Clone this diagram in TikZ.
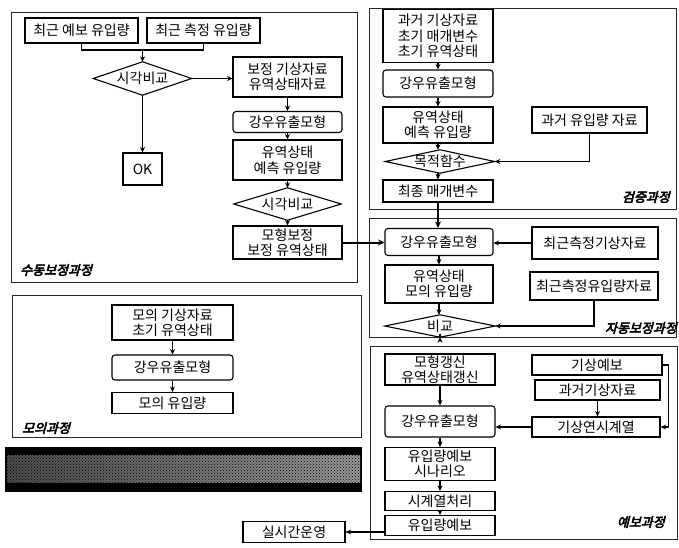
\documentclass[tikz,border=0pt]{standalone}
\usepackage{fontspec}
\setmainfont{Noto Sans CJK KR}
\newfontfamily\kr{Noto Sans CJK KR}
\newfontfamily\krlab[FakeSlant=0.25,FakeBold=4]{Noto Sans CJK KR}
\usetikzlibrary{arrows.meta,patterns,calc}
\begin{document}
\begin{tikzpicture}[x=1pt,y=-1pt,
  box/.style={draw, line width=1.1pt, inner sep=0pt, align=center, font=\kr\fontsize{14}{15.5}\selectfont},
  rbox/.style={box, rounded corners=3pt},
  dia/.style={inner sep=0pt, align=center, font=\kr\fontsize{14}{15.5}\selectfont},
  diaedge/.style={line width=1.1pt},
  arr/.style={-{Stealth[length=5.5pt,width=5pt]}, line width=1.1pt},
  thk/.style={-{Stealth[length=6.5pt,width=6pt]}, line width=2pt},
  ln/.style={line width=1.1pt},
  panel/.style={draw, line width=0.9pt, black!85},
  lab/.style={font=\krlab\fontsize{13}{13}\selectfont, inner sep=0pt}
]
\fill[white] (0,0) rectangle (679,547);
\useasboundingbox (0,0) rectangle (679,547);

% panels
\draw[panel] (11,12) rectangle (357,282);
\draw[panel] (12,295) rectangle (361,437);
\draw[panel] (369,8) rectangle (676,209);
\draw[panel] (369,218) rectangle (676,337);
\draw[panel] (370,346) rectangle (677,539);

% ---------- 수동보정과정 ----------
\node[box, minimum width=113pt, minimum height=25pt] (a1) at (81.5,30.5) {최근 예보 유입량};
\node[box, minimum width=113pt, minimum height=25pt] (a2) at (203.5,30.5) {최근 측정 유입량};
\node[dia, minimum width=98pt, minimum height=33pt] (d1) at (142.5,78.5) {시각비교};
\draw[diaedge] (d1.north)--(d1.east)--(d1.south)--(d1.west)--cycle;
\node[box, minimum width=39pt, minimum height=32pt] (ok) at (142.5,169) {OK};
\node[box, minimum width=109pt, minimum height=40pt] (b1) at (287.5,77) {보정 기상자료\\유역상태자료};
\node[rbox, minimum width=109pt, minimum height=21pt] (b2) at (287.5,122) {강우유출모형};
\node[box, minimum width=109pt, minimum height=40pt] (b3) at (287.5,160) {유역상태\\예측 유입량};
\node[dia, minimum width=107pt, minimum height=32pt] (d2) at (287.5,204) {시각비교};
\draw[diaedge] (d2.north)--(d2.east)--(d2.south)--(d2.west)--cycle;
\node[box, minimum width=109pt, minimum height=33pt] (b4) at (287.5,242.5) {모형보정\\보정 유역상태};
\node[lab, anchor=west] (l1) at (20,270) {수동보정과정};

\coordinate (j1) at (142.5,50);
\draw[ln] (a1.south) |- (j1) -| (a2.south);
\draw[arr] (j1) -- (d1.north);
\draw[arr] (d1.east) -- (d1.east -| b1.west);
\draw[arr] (d1.south) -- (ok.north);
\draw[arr] (b1) -- (b2);
\draw[arr] (b2) -- (b3);
\draw[arr] (b3) -- (d2.north);
\draw[arr] (d2.south) -- (b4.north);

% ---------- 검증과정 ----------
\node[box, minimum width=110pt, minimum height=53pt] (c1) at (438,36) {과거 기상자료\\초기 매개변수\\초기 유역상태};
\node[rbox, minimum width=110pt, minimum height=27pt] (c2) at (438,83.5) {강우유출모형};
\node[box, minimum width=110pt, minimum height=36pt] (c3) at (438,125) {유역상태\\예측 유입량};
\node[dia, minimum width=109pt, minimum height=23pt] (d3) at (440,161.5) {목적함수};
\draw[diaedge] (d3.north)--(d3.east)--(d3.south)--(d3.west)--cycle;
\node[box, minimum width=110pt, minimum height=22pt] (c4) at (438,191) {최종 매개변수};
\node[box, minimum width=115pt, minimum height=26pt] (c5) at (589.5,120) {과거 유입량 자료};
\node[lab, anchor=east] (l2) at (670,197) {검증과정};

\draw[arr] (c1) -- (c2);
\draw[arr] (c2) -- (c3);
\draw[arr] (c3.south) -- (c3.south |- d3.north);
\draw[arr] (c4.north |- d3.south) -- (c4.north);
\draw[arr] (c5.south) |- (d3.east);

% ---------- 자동보정과정 ----------
\node[rbox, minimum width=108pt, minimum height=27pt] (e1) at (439,242) {강우유출모형};
\node[box, minimum width=126pt, minimum height=32pt] (e2) at (595,243) {최근측정기상자료};
\node[box, minimum width=108pt, minimum height=38pt] (e3) at (439,284) {유역상태\\모의 유입량};
\node[box, minimum width=128pt, minimum height=28pt] (e4) at (594,286) {최근측정유입량자료};
\node[dia, minimum width=110pt, minimum height=22pt] (d4) at (440,326) {비교};
\draw[diaedge] (d4.north)--(d4.east)--(d4.south)--(d4.west)--cycle;
\node[lab, anchor=east] (l3) at (677,328) {자동보정과정};

\draw[thk] (c4.south) -- (c4.south |- e1.north);
\draw[thk] (b4.east) -- (b4.east -| e1.west);
\draw[arr] (e2.west) -- (e2.west -| e1.east);
\draw[arr] (e1) -- (e3);
\draw[arr] (e3.south) -- (e3.south |- d4.north);
\draw[arr] (e4.south) |- (d4.east);

% ---------- 예보과정 ----------
\node[box, minimum width=110pt, minimum height=31pt] (f1) at (440,369.5) {모형갱신\\유역상태갱신};
\node[box, minimum width=130pt, minimum height=20pt] (f2) at (597,365) {기상예보};
\node[box, minimum width=125pt, minimum height=20pt] (f3) at (597.5,390) {과거기상자료};
\node[box, minimum width=128pt, minimum height=20pt] (f4) at (596,427) {기상연시계열};
\node[rbox, minimum width=110pt, minimum height=31pt] (f5) at (440,421.5) {강우유출모형};
\node[box, minimum width=110pt, minimum height=33pt] (f6) at (440,464) {유입량예보\\시나리오};
\node[box, minimum width=110pt, minimum height=19pt] (f7) at (440,501) {시계열처리};
\node[box, minimum width=110pt, minimum height=20pt] (f8) at (440,525.5) {유입량예보};
\node[lab, anchor=east] (l4) at (665,522) {예보과정};
\node[box, minimum width=102pt, minimum height=21pt] (rt) at (294,532) {실시간운영};

\draw[arr] (d4.south) -- (d4.south -| f1.north);
\draw[arr] (f1) -- (f5);
\draw[arr] (f3.south) -- (f3.south |- f4.north);
\draw[arr] (f2.east) -- ++(6,0) |- (f4.east);
\draw[arr] (f4.west) -- (f4.west -| f5.east);
\draw[arr] (f5) -- (f6);
\draw[arr] (f6) -- (f7);
\draw[arr] (f7) -- (f8);
\draw[arr] (f8.west |- rt.east) -- (rt.east);

% ---------- 모의과정 ----------
\node[box, minimum width=121pt, minimum height=35pt] (g1) at (172.5,322.5) {모의 기상자료\\초기 유역상태};
\node[rbox, minimum width=121pt, minimum height=25pt] (g2) at (172.5,367.5) {강우유출모형};
\node[box, minimum width=121pt, minimum height=21pt] (g3) at (172.5,403) {모의 유입량};
\node[lab, anchor=west] (l5) at (22,428) {모의과정};
\draw[arr] (g1) -- (g2);
\draw[arr] (g2) -- (g3);

% ---------- banner ----------
\fill[black] (5,447) rectangle (362,492);
\shade[left color=black!70, right color=black!40] (7,455) rectangle (360,482);
\fill[pattern=crosshatch dots, pattern color=black] (7,455) rectangle (360,482);
\end{tikzpicture}
\end{document}
